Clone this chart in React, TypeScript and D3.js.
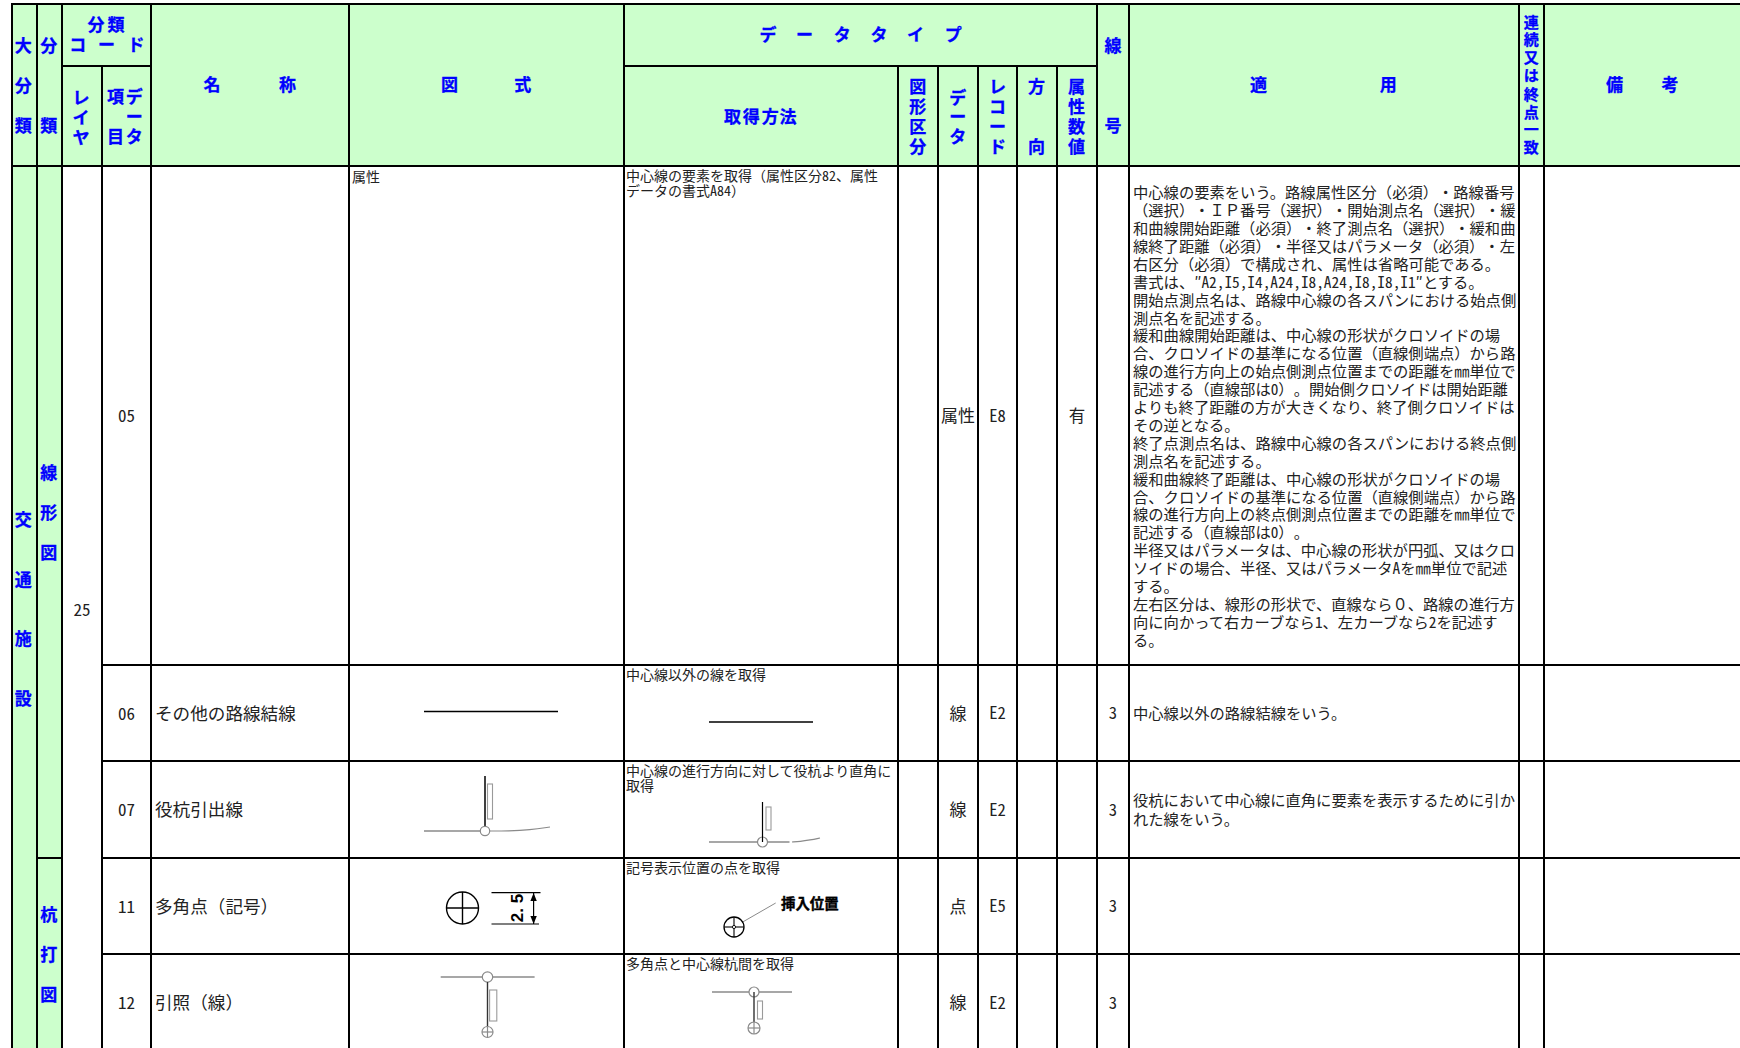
import React from "react";
import * as d3 from "d3";

const W = 1740, H = 1048;
const columnEdges = [12, 37, 62, 102, 151, 349, 624, 898, 938, 978, 1017, 1057, 1097, 1129, 1519, 1544, 1760];
const rowEdges = [4, 166, 665, 761, 858, 954, 1060];
const headerSplit = 66;

const itemCodes = ["05", "06", "07", "11", "12"];
const itemNames = ["", "その他の路線結線", "役杭引出線", "多角点（記号）", "引照（線）"];
const shapeTypes = ["属性", "線", "線", "点", "線"];
const dataTypes = ["E8", "E2", "E2", "E5", "E2"];
const attrCounts = ["有", "", "", "", ""];
const lineNumbers = ["", "3", "3", "3", "3"];
const acquireText = [
  ["中心線の要素を取得（属性区分82、属性", "データの書式A84）"],
  ["中心線以外の線を取得"],
  ["中心線の進行方向に対して役杭より直角に", "取得"],
  ["記号表示位置の点を取得"],
  ["多角点と中心線杭間を取得"],
];
const applyFirst = [
  "中心線の要素をいう。路線属性区分（必須）・路線番号",
  "（選択）・ＩＰ番号（選択）・開始測点名（選択）・緩",
  "和曲線開始距離（必須）・終了測点名（選択）・緩和曲",
  "線終了距離（必須）・半径又はパラメータ（必須）・左",
  "右区分（必須）で構成され、属性は省略可能である。",
  "書式は、\u2033A2,I5,I4,A24,I8,A24,I8,I8,I1\u2033とする。",
  "開始点測点名は、路線中心線の各スパンにおける始点側",
  "測点名を記述する。",
  "緩和曲線開始距離は、中心線の形状がクロソイドの場",
  "合、クロソイドの基準になる位置（直線側端点）から路",
  "線の進行方向上の始点側測点位置までの距離を㎜単位で",
  "記述する（直線部は0）。開始側クロソイドは開始距離",
  "よりも終了距離の方が大きくなり、終了側クロソイドは",
  "その逆となる。",
  "終了点測点名は、路線中心線の各スパンにおける終点側",
  "測点名を記述する。",
  "緩和曲線終了距離は、中心線の形状がクロソイドの場",
  "合、クロソイドの基準になる位置（直線側端点）から路",
  "線の進行方向上の終点側測点位置までの距離を㎜単位で",
  "記述する（直線部は0）。",
  "半径又はパラメータは、中心線の形状が円弧、又はクロ",
  "ソイドの場合、半径、又はパラメータAを㎜単位で記述",
  "する。",
  "左右区分は、線形の形状で、直線なら０、路線の進行方",
  "向に向かって右カーブなら1、左カーブなら2を記述す",
  "る。",
];
const applyOther = [
  [],
  ["中心線以外の路線結線をいう。"],
  ["役杭において中心線に直角に要素を表示するために引か", "れた線をいう。"],
  [],
  [],
];

// header glyphs: [char, x, y] in the coordinates of the reduced sheet
const headerGlyphs: [string, number, number][] = [
  ["大", 21, 41], ["分", 21, 77], ["類", 21, 113],
  ["分", 44, 41], ["類", 44, 113],
  ["分", 86.5, 22.5], ["類", 104.5, 22.5], ["コ", 70, 40], ["ー", 96, 40], ["ド", 122.5, 40],
  ["レ", 73, 88], ["イ", 73, 106], ["ヤ", 73, 124],
  ["項", 104, 87], ["目", 104, 123], ["デ", 121, 87], ["ー", 121, 105], ["タ", 121, 123],
  ["名", 191, 76], ["称", 259, 76], ["図", 405, 76], ["式", 471, 76],
  ["デ", 692, 31], ["ー", 725, 31], ["タ", 759, 31], ["タ", 792, 31], ["イ", 825, 31], ["プ", 859, 31],
  ["取", 660, 105], ["得", 677, 105], ["方", 694, 105], ["法", 710, 105],
  ["図", 827, 78], ["形", 827, 96], ["区", 827, 114], ["分", 827, 132],
  ["デ", 863, 88], ["ー", 863, 105], ["タ", 863, 123],
  ["レ", 899, 78], ["コ", 899, 96], ["ー", 899, 114], ["ド", 899, 132],
  ["方", 934, 78], ["向", 934, 132],
  ["属", 970, 78], ["性", 970, 96], ["数", 970, 114], ["値", 970, 132],
  ["線", 1003, 41], ["号", 1003, 113],
  ["適", 1134, 76], ["用", 1251, 76],
  ["連", 1380, 20], ["続", 1380, 36], ["又", 1380, 52], ["は", 1380, 68], ["終", 1380, 85], ["点", 1380, 101], ["一", 1380, 117], ["致", 1380, 133],
  ["備", 1455, 76], ["考", 1505, 76],
  ["交", 21, 468], ["通", 21, 522], ["施", 21, 575], ["設", 21, 629],
  ["線", 44, 426], ["形", 44, 462], ["図", 44, 498],
  ["杭", 44, 824], ["打", 44, 860], ["図", 44, 896],
];

const sx = d3.scaleLinear().domain([0, 1568]).range([0, W]);
const sy = d3.scaleLinear().domain([0, 944]).range([0, H]);

const FONT = "'Noto Sans CJK JP', sans-serif";
const HW: React.CSSProperties = { fontFeatureSettings: '"hwid"' };

const line = d3.line<[number, number]>();
const curve = d3.line<[number, number]>().curve(d3.curveBasis);

const GRAY = "#8a8a8a";
const rowCenters = [416, 713.5, 810, 906.5, 1003];
const mid = (i: number) => (columnEdges[i] + columnEdges[i + 1]) / 2;

// half-width runs for latin and digits, as in a monospaced Japanese face
function Runs({ t }: { t: string }) {
  const parts = t.split(/([\x21-\x7e\u2033]+)/);
  return (
    <>
      {parts.map((p, i) =>
        i % 2 === 1 ? <tspan key={i} style={HW}>{p}</tspan> : p
      )}
    </>
  );
}

function Seg({ p, c = "#000", w = 1.4 }: { p: [number, number][]; c?: string; w?: number }) {
  return <path d={line(p) || ""} fill="none" stroke={c} strokeWidth={w} />;
}
function Circ({ x, y, r, c = GRAY, w = 1.2, cross = false, crossW }: { x: number; y: number; r: number; c?: string; w?: number; cross?: boolean; crossW?: number }) {
  return (
    <g>
      <circle cx={x} cy={y} r={r} fill="#fff" stroke={c} strokeWidth={w} />
      {cross && <Seg p={[[x - r, y], [x + r, y]]} c={c} w={crossW ?? w} />}
      {cross && <Seg p={[[x, y - r], [x, y + r]]} c={c} w={crossW ?? w} />}
    </g>
  );
}
function Box({ x0, x1, y0, y1 }: { x0: number; x1: number; y0: number; y1: number }) {
  return <rect x={x0} y={y0} width={x1 - x0} height={y1 - y0} fill="#fff" stroke="#9a9a9a" strokeWidth={1.1} />;
}

export default function App() {
  const vertical = columnEdges.slice(0, -1);
  return (
    <svg width={W} height={H} viewBox={`0 0 ${W} ${H}`} style={{ position: "absolute", left: 0, top: 0, background: "#fff", textSpacingTrim: "space-all" } as React.CSSProperties} fontFamily={FONT}>
      {/* fills */}
      <rect x={columnEdges[0]} y={rowEdges[0]} width={W} height={rowEdges[1] - rowEdges[0]} fill="#ccffcc" />
      <rect x={columnEdges[0]} y={rowEdges[0]} width={columnEdges[2] - columnEdges[0]} height={H} fill="#ccffcc" />

      {/* grid */}
      <g stroke="#000" strokeWidth={2} shapeRendering="crispEdges">
        {vertical.map((x, i) => {
          const y0 = i === 3 || (i >= 7 && i <= 11) ? headerSplit : rowEdges[0];
          return <line key={i} x1={x} x2={x} y1={y0} y2={H} />;
        })}
        <line x1={columnEdges[0] - 1} x2={W} y1={rowEdges[0]} y2={rowEdges[0]} />
        <line x1={columnEdges[0]} x2={W} y1={rowEdges[1]} y2={rowEdges[1]} />
        <line x1={columnEdges[2]} x2={columnEdges[4]} y1={headerSplit} y2={headerSplit} />
        <line x1={columnEdges[6]} x2={columnEdges[12]} y1={headerSplit} y2={headerSplit} />
        {rowEdges.slice(2, 6).map((y) => <line key={y} x1={columnEdges[3]} x2={W} y1={y} y2={y} />)}
        <line x1={columnEdges[1]} x2={columnEdges[2]} y1={rowEdges[4]} y2={rowEdges[4]} />
      </g>

      {/* header glyphs */}
      <g fill="#0000ff" fontWeight={700} textAnchor="middle" dominantBaseline="central" stroke="#0000ff" strokeWidth={0.3} transform="translate(0,-1)">
        {headerGlyphs.map(([ch, x, y], i) => (
          <text key={i} x={sx(x)} y={sy(y)} fontSize={x === 1380 ? 15 : 17}>{ch}</text>
        ))}
      </g>

      {/* body */}
      <g fill="#222" dominantBaseline="central" transform="translate(0,-1.2)">
        <text x={82} y={sy(549)} fontSize={17} textAnchor="middle" style={HW}>25</text>
        {itemCodes.map((c, i) => (
          <g key={c}>
            <text x={mid(3)} y={rowCenters[i]} fontSize={17} textAnchor="middle" style={HW}>{c}</text>
            <text x={155} y={rowCenters[i]} fontSize={17.6}>{itemNames[i]}</text>
            <text x={mid(8)} y={rowCenters[i]} fontSize={17} textAnchor="middle">{shapeTypes[i]}</text>
            <text x={mid(9)} y={rowCenters[i]} fontSize={16.6} textAnchor="middle" style={HW}>{dataTypes[i]}</text>
            <text x={mid(11)} y={rowCenters[i]} fontSize={16.5} textAnchor="middle">{attrCounts[i]}</text>
            <text x={mid(12)} y={rowCenters[i]} fontSize={16.6} textAnchor="middle" style={HW}>{lineNumbers[i]}</text>
            {acquireText[i].map((t, k) => (
              <text key={k} x={626} y={rowEdges[i + 1] + 10 + k * 15.2} fontSize={14}><Runs t={t} /></text>
            ))}
            {applyOther[i].map((t, k) => (
              <text key={k} x={1133} y={rowCenters[i] + (k - (applyOther[i].length - 1) / 2) * 19} fontSize={15.3}><Runs t={t} /></text>
            ))}
          </g>
        ))}
        {applyFirst.map((t, k) => (
          <text key={k} x={1133} y={192.5 + k * 17.9} fontSize={15.3}><Runs t={t} /></text>
        ))}
        <text x={352} y={177.5} fontSize={14}>属性</text>
      </g>

      {/* row 06 */}
      <Seg p={[[424, 711.5], [558, 711.5]]} />
      <Seg p={[[709, 722], [813, 722]]} />

      {/* row 07 */}
      <Seg p={[[424, 831], [480, 831]]} c={GRAY} />
      <path d={curve([[490, 831], [508, 831], [530, 830], [550, 827]]) || ""} fill="none" stroke={GRAY} strokeWidth={1.2} />
      <Seg p={[[485, 776], [485, 827]]} w={1.5} />
      <Circ x={485} y={831} r={4.7} />
      <Box x0={487.5} x1={492.5} y0={784} y1={819} />

      <Seg p={[[709, 842], [789.5, 842]]} c={GRAY} />
      <path d={curve([[792, 842], [800, 841.5], [810, 840], [820, 838]]) || ""} fill="none" stroke={GRAY} strokeWidth={1.2} />
      <Circ x={762.5} y={842} r={5} />
      <Seg p={[[762.5, 802], [762.5, 842]]} w={1.2} />
      <Box x0={766} x1={771} y0={807} y1={830} />

      {/* row 11 */}
      <Circ x={462.5} y={908} r={16} c="#000" w={1.4} cross />
      <Seg p={[[491.5, 892.7], [540.5, 892.7]]} w={1.2} />
      <Seg p={[[491.5, 924], [539, 924]]} w={1.2} />
      <Seg p={[[533.6, 893], [533.6, 924]]} w={1.2} />
      <path d="M533.6 893 l-3.2 8 h6.4z M533.6 924 l-3.2 -8 h6.4z" fill="#000" />
      <text transform={`translate(517,908) rotate(-90)`} fontSize={17} fontWeight={700} textAnchor="middle" dominantBaseline="central" fill="#000" fontFamily="'Liberation Sans', sans-serif">2. 5</text>

      <Seg p={[[734, 927], [775.7, 903]]} c={GRAY} w={1} />
      <Circ x={734} y={927} r={10} c="#000" w={1.3} cross crossW={1.1} />
      <circle cx={734} cy={927} r={1.6} fill="#fff" stroke="#000" strokeWidth={0.9} />
      <text x={781} y={902} fontSize={14.4} fontWeight={700} fill="#000" stroke="#000" strokeWidth={0.4} dominantBaseline="central">挿入位置</text>

      {/* row 12 */}
      <Seg p={[[440.7, 977], [534.6, 977]]} c={GRAY} />
      <Circ x={487.5} y={977} r={5.2} />
      <Seg p={[[487.5, 982], [487.5, 1027]]} c="#333" w={1.4} />
      <Box x0={489.6} x1={496.8} y0={990} y1={1021} />
      <Circ x={487.5} y={1032} r={5.5} cross />

      <Seg p={[[712, 992], [792, 992]]} c={GRAY} />
      <Circ x={754} y={992} r={5} />
      <Seg p={[[754, 992], [754, 1023]]} c="#222" w={1.3} />
      <Box x0={757.5} x1={762.5} y0={1001} y1={1019} />
      <Circ x={754} y={1028} r={6} cross />
    </svg>
  );
}
